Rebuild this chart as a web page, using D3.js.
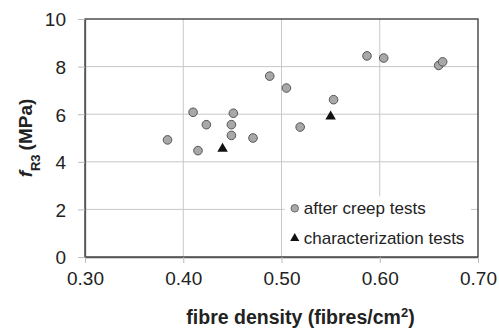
<!DOCTYPE html>
<html>
<head>
<meta charset="utf-8">
<script src="https://cdn.jsdelivr.net/npm/d3@7"></script>
<style>
  body { margin: 0; background: #fff; }
  svg { display: block; font-family: "Liberation Sans", Arial, sans-serif; }
</style>
</head>
<body>
<div id="chart"></div>
<script>
// data
const creepX = [0.384, 0.410, 0.4235, 0.415, 0.451, 0.449, 0.449, 0.471, 0.488, 0.505, 0.519, 0.553, 0.587, 0.604, 0.660, 0.664];
const creepY = [4.92, 6.08, 5.56, 4.47, 6.04, 5.56, 5.11, 5.00, 7.60, 7.10, 5.46, 6.61, 8.45, 8.36, 8.05, 8.20];
const charX = [0.440, 0.550];
const charY = [4.55, 5.90];
const xTicks = [0.30, 0.40, 0.50, 0.60, 0.70];
const yTicks = [0, 2, 4, 6, 8, 10];
const legendLabels = ["after creep tests", "characterization tests"];

const W = 499, H = 333;
const margin = { top: 19, right: 21, bottom: 76, left: 85 };
const width = W - margin.left - margin.right;
const height = H - margin.top - margin.bottom;

const svg = d3.select("#chart").append("svg")
  .attr("width", W)
  .attr("height", H);

const g = svg.append("g")
  .attr("transform", `translate(${margin.left},${margin.top})`);

const x = d3.scaleLinear().domain([0.30, 0.70]).range([0, width]);
const y = d3.scaleLinear().domain([0, 10]).range([height, 0]);

// gridlines
g.append("g").selectAll("line.vg")
  .data(xTicks.slice(1, -1))
  .join("line")
    .attr("x1", d => x(d)).attr("x2", d => x(d))
    .attr("y1", 0).attr("y2", height)
    .attr("stroke", "#c8c8c8").attr("stroke-width", 1);

g.append("g").selectAll("line.hg")
  .data(yTicks.slice(1, -1))
  .join("line")
    .attr("x1", 0).attr("x2", width)
    .attr("y1", d => y(d)).attr("y2", d => y(d))
    .attr("stroke", "#c8c8c8").attr("stroke-width", 1);

// legend box (white, covers grid)
const legX = x(0.5033), legY = y(2.55);
g.append("rect")
  .attr("x", legX).attr("y", legY)
  .attr("width", x(0.693) - legX).attr("height", height - legY)
  .attr("fill", "#fff");

// frame
g.append("rect")
  .attr("x", 0).attr("y", 0)
  .attr("width", width).attr("height", height)
  .attr("fill", "none")
  .attr("stroke", "#333").attr("stroke-width", 1.3);

// axes
const xAxis = d3.axisBottom(x).tickValues(xTicks).tickFormat(d3.format(".2f"))
  .tickSizeInner(6).tickSizeOuter(0).tickPadding(9);
const yAxis = d3.axisLeft(y).tickValues(yTicks).tickFormat(d3.format("d"))
  .tickSizeInner(7).tickSizeOuter(0).tickPadding(12);

const xg = g.append("g").attr("transform", `translate(0,${height})`).call(xAxis);
const yg = g.append("g").call(yAxis);

[xg, yg].forEach(a => {
  a.select(".domain").attr("stroke", "#555").attr("stroke-width", 1.3);
  a.selectAll(".tick line").attr("stroke", "#bbb");
  a.selectAll(".tick text")
    .attr("fill", "#222")
    .style("font-size", "19px")
    .style("font-family", "'Liberation Sans', Arial, sans-serif");
});
yg.selectAll(".tick text").attr("dy", "0.36em");

// points
const creep = creepX.map((v, i) => ({ x: v, y: creepY[i] }));
const chars = charX.map((v, i) => ({ x: v, y: charY[i] }));

g.append("g").selectAll("circle")
  .data(creep)
  .join("circle")
    .attr("cx", d => x(d.x))
    .attr("cy", d => y(d.y))
    .attr("r", 4.3)
    .attr("fill", "#a8a8a8")
    .attr("stroke", "#555")
    .attr("stroke-width", 1);

const tri = d3.symbol().type(d3.symbolTriangle).size(48);
g.append("g").selectAll("path")
  .data(chars)
  .join("path")
    .attr("transform", d => `translate(${x(d.x)},${y(d.y)})`)
    .attr("d", tri)
    .attr("fill", "#111");

// legend entries
const legend = g.append("g").attr("transform", `translate(${legX},${legY})`);
const items = legend.selectAll("g")
  .data(legendLabels)
  .join("g")
    .attr("transform", (d, i) => `translate(0,${12 + i * 30})`);

items.filter((d, i) => i === 0).append("circle")
  .attr("cx", 10).attr("cy", 0).attr("r", 3.8)
  .attr("fill", "#a8a8a8").attr("stroke", "#555").attr("stroke-width", 0.8);
items.filter((d, i) => i === 1).append("path")
  .attr("transform", "translate(10,0)")
  .attr("d", d3.symbol().type(d3.symbolTriangle).size(36))
  .attr("fill", "#111");

items.append("text")
  .attr("x", 19).attr("y", 0).attr("dy", "0.35em")
  .attr("fill", "#222")
  .style("font-size", "17px")
  .text(d => d);

// axis titles
const xt = svg.append("text")
  .attr("x", margin.left + width / 2 + 19)
  .attr("y", 324)
  .attr("text-anchor", "middle")
  .attr("fill", "#222")
  .style("font-size", "19.5px")
  .style("font-weight", "bold");
xt.append("tspan").text("fibre density (fibres/cm");
xt.append("tspan").attr("baseline-shift", "super").style("font-size", "13px").text("2");
xt.append("tspan").text(")");

const yt = svg.append("text")
  .attr("transform", `translate(32,${margin.top + 119}) rotate(-90)`)
  .attr("text-anchor", "middle")
  .attr("fill", "#222")
  .style("font-size", "19px")
  .style("font-weight", "bold");
yt.append("tspan").style("font-style", "italic").text("f");
yt.append("tspan").attr("baseline-shift", "sub").style("font-size", "13px").text("R3");
yt.append("tspan").attr("dx", 4).text("(MPa)");
</script>
</body>
</html>
